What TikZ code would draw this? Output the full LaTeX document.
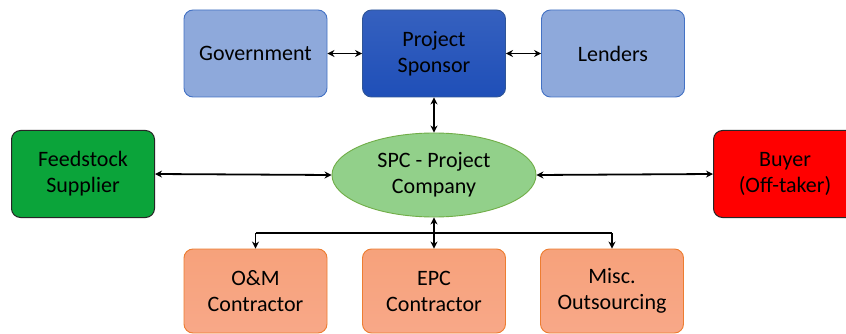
\documentclass[tikz,border=0pt]{standalone}
\usepackage{fontspec}
\setmainfont{Carlito}
\usetikzlibrary{shapes.geometric,arrows.meta}
\definecolor{lblue}{HTML}{8EA9DB}
\definecolor{lblueB}{HTML}{4472C4}
\definecolor{dblue}{HTML}{1F4FB8}
\definecolor{dblueB}{HTML}{2F5597}
\definecolor{fgreen}{HTML}{0BA43A}
\definecolor{egreen}{HTML}{92D08A}
\definecolor{egreenB}{HTML}{70AD47}
\definecolor{salmon}{HTML}{F8A888}
\definecolor{salmonB}{HTML}{ED7D31}
\tikzset{
  x=1pt, y=-1pt,
  lbl/.style={font=\fontsize{22}{26}\selectfont},
  box/.style={rounded corners=9pt, minimum width=143pt, minimum height=87pt,
    align=center, lbl, line width=0.9pt, text=black},
  partner/.style={box, fill=lblue, draw=lblueB},
  sponsorbox/.style={box, top color=dblue!90!white, bottom color=dblue, draw=dblueB},
  sidebox/.style={box, draw=black!85, line width=1pt},
  contractor/.style={box, top color=salmon!85!salmonB, bottom color=salmon, draw=salmonB},
  tip/.style={Stealth[length=7pt,width=7pt]},
  link/.style={line width=1.8pt, {Stealth[length=7pt,width=7pt]}-{Stealth[length=7pt,width=7pt]}},
  feed/.style={line width=1.8pt, -{Stealth[length=7pt,width=7pt]}},
  bar/.style={line width=1.8pt}
}
\begin{document}
\begin{tikzpicture}
\useasboundingbox (0,0) rectangle (846,334);
\clip (0,0) rectangle (846,334);
\fill[white] (0,0) rectangle (846,334);

% top row
\node[partner] (gov) at (255.5,53.5) {Government};
\node[sponsorbox] (sponsor) at (434,53.5) {Project\\Sponsor};
\node[partner] (lend) at (613,53.5) {Lenders};

% middle row
\node[ellipse, fill=egreen, draw=egreenB, line width=0.9pt, minimum width=204pt,
  minimum height=84pt, inner sep=0pt, align=center, lbl]
  (spc) at (434,175) {SPC - Project\\Company};
\node[sidebox, fill=fgreen] (feed) at (83,174) {Feedstock\\Supplier};
\node[sidebox, fill=red] (buyer) at (785,174) {Buyer\\(Off-taker)};

% bottom row
\node[contractor, minimum height=84pt] (om) at (255.5,291) {O\&M\\Contractor};
\node[contractor, minimum height=84pt] (epc) at (434,291) {EPC\\Contractor};
\node[contractor, minimum height=84pt] (misc) at (612,291) {Misc.\\Outsourcing};

% connectors
\draw[link] (gov.east) -- (sponsor.west);
\draw[link] (sponsor.east) -- (lend.west);
\draw[link] (sponsor.south) -- (spc.north);
\draw[link] (feed.east) -- (spc.west);
\draw[link] (spc.east) -- (buyer.west);

\coordinate (hub) at (434,233);
\draw[link] (spc.south) -- (epc.north);
\draw[bar] (om.north |- hub) -- (misc.north |- hub);
\draw[feed] (om.north |- hub) -- (om.north);
\draw[feed] (misc.north |- hub) -- (misc.north);
\end{tikzpicture}
\end{document}
